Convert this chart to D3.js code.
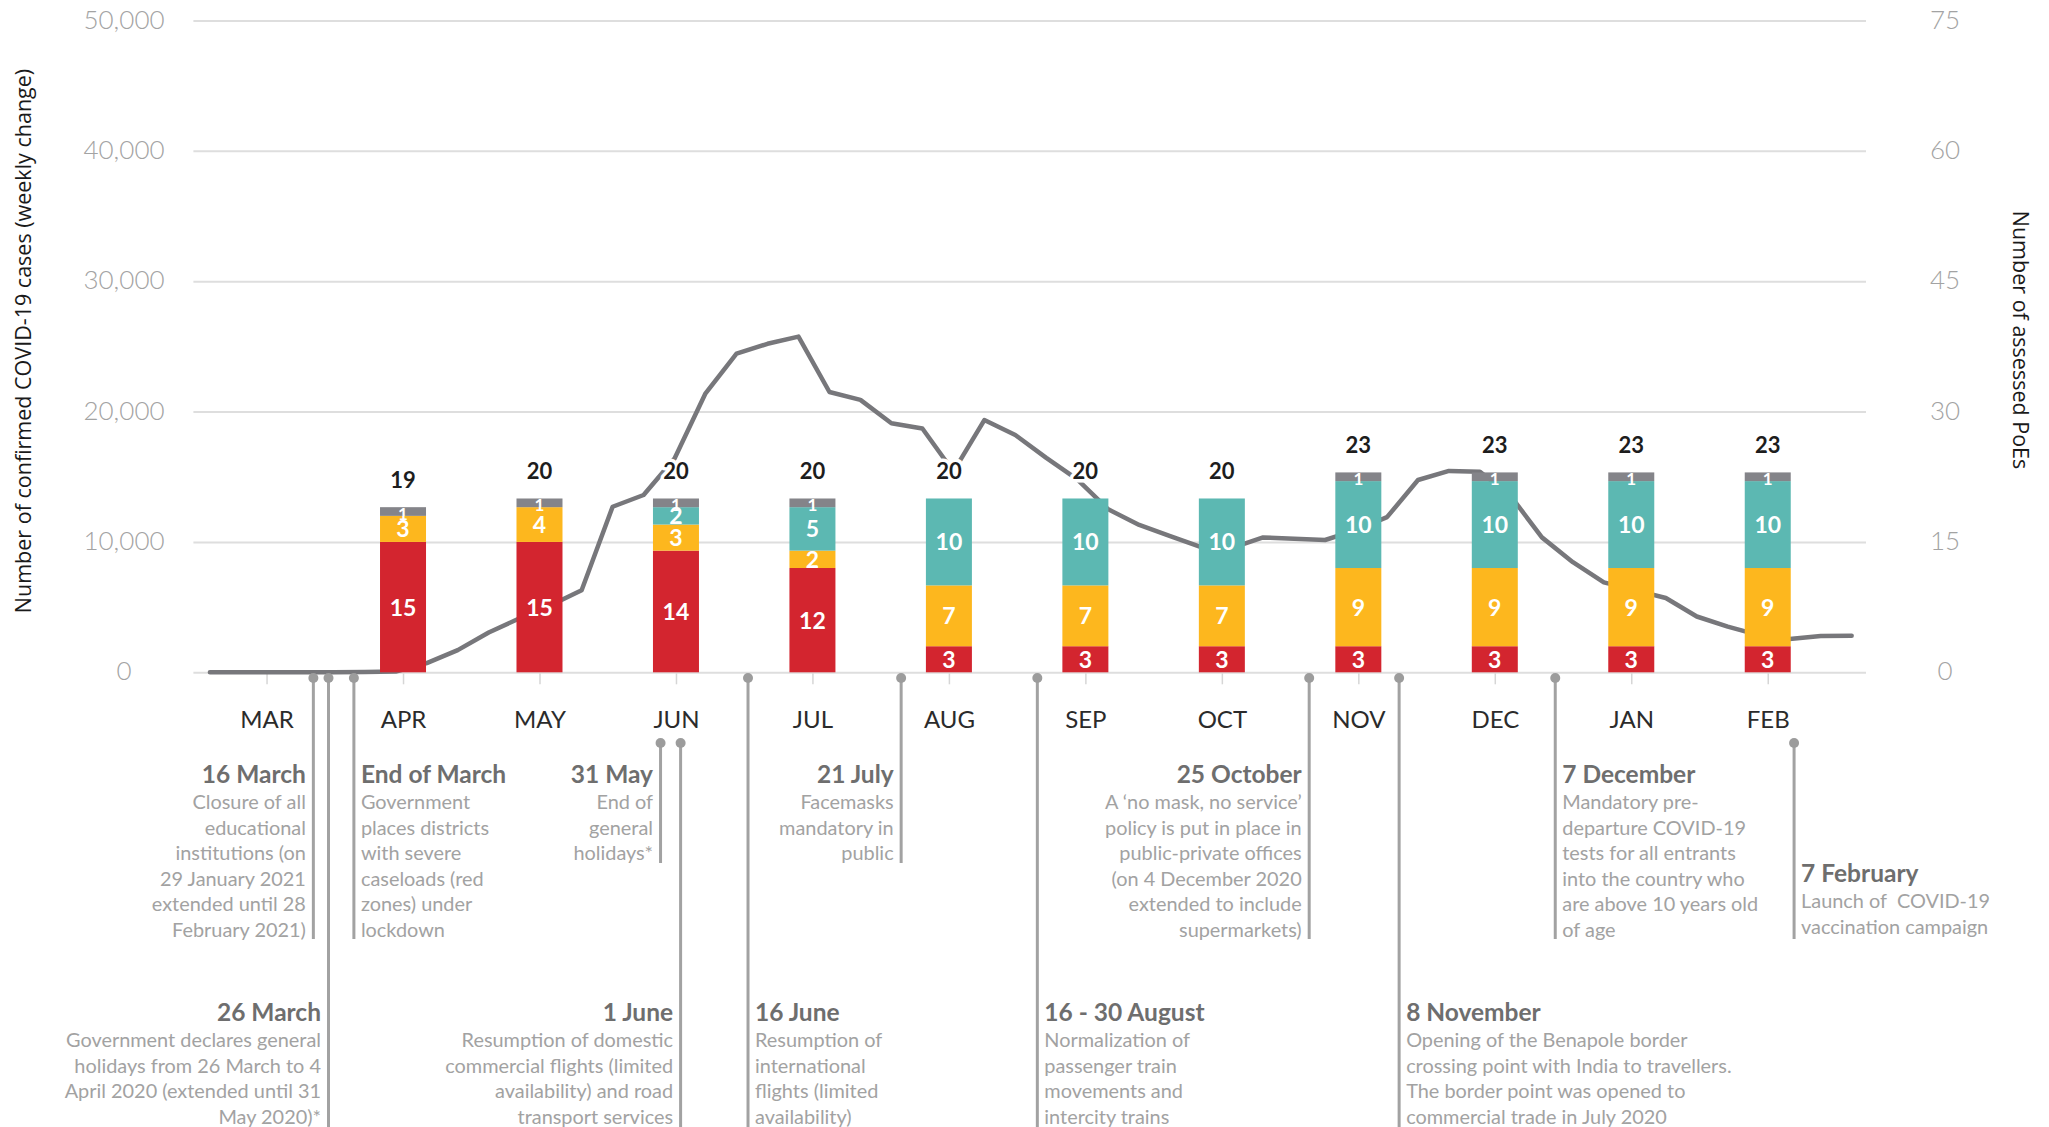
<!DOCTYPE html>
<html><head><meta charset="utf-8">
<script src="https://cdn.jsdelivr.net/npm/d3@7"></script>
<style>
html,body{margin:0;padding:0;background:#fff;}
svg{display:block;}
</style></head>
<body>
<svg id="chart" width="2049" height="1127"></svg>
<script>
// ---------------- DATA ----------------
const months = ["MAR","APR","MAY","JUN","JUL","AUG","SEP","OCT","NOV","DEC","JAN","FEB"];
const leftTicks = [0, 10000, 20000, 30000, 40000, 50000];
const rightTicks = [0, 15, 30, 45, 60, 75];

// assessed PoEs per month (bars start in APR)
const barMonths = ["APR","MAY","JUN","JUL","AUG","SEP","OCT","NOV","DEC","JAN","FEB"];
const poeRed    = [15, 15, 14, 12, 3, 3, 3, 3, 3, 3, 3];
const poeYellow = [3, 4, 3, 2, 7, 7, 7, 9, 9, 9, 9];
const poeTeal   = [0, 0, 2, 5, 10, 10, 10, 10, 10, 10, 10];
const poeGray   = [1, 1, 1, 1, 0, 0, 0, 1, 1, 1, 1];

// weekly change in confirmed COVID-19 cases (54 weeks)
const weeklyCases = [
  0, 0, 0, 0, 0, 20, 60, 700, 1700, 3050,
  4150, 5150, 6300, 12700, 13600, 16400, 21400, 24450, 25200, 25750,
  21500, 20900, 19100, 18700, 15400, 19350, 18200, 16450, 14800, 12500,
  11300, 10450, 9600, 9550, 10350, 10250, 10150, 10900, 11900, 14750,
  15450, 15380, 13500, 10350, 8450, 6900, 6300, 5700, 4280, 3500,
  2850, 2550, 2780, 2800
];
// first and last week expressed in month-axis units (MAR = 0)
const weekSpan = [-0.415, 11.615];

// timeline events: position in month-axis units (MAR = 0)
const eventTitles = ["16 March","26 March","End of March","31 May","1 June","16 June","21 July","16 - 30 August","25 October","8 November","7 December","7 February"];
const eventPos = [0.343, 0.454, 0.640, 2.887, 3.034, 3.528, 4.650, 5.648, 7.640, 8.299, 9.443, 11.193];
const eventTexts = [
  ["Closure of all","educational","institutions (on","29 January 2021","extended until 28","February 2021)"],
  ["Government declares general","holidays from 26 March to 4","April 2020 (extended until 31","May 2020)*"],
  ["Government","places districts","with severe","caseloads (red","zones) under","lockdown"],
  ["End of","general","holidays*"],
  ["Resumption of domestic","commercial flights (limited","availability) and road","transport services"],
  ["Resumption of","international","flights (limited","availability)"],
  ["Facemasks","mandatory in","public"],
  ["Normalization of","passenger train","movements and","intercity trains"],
  ["A \u2018no mask, no service\u2019","policy is put in place in","public-private offices","(on 4 December 2020","extended to include","supermarkets)"],
  ["Opening of the Benapole border","crossing point with India to travellers.","The border point was opened to","commercial trade in July 2020"],
  ["Mandatory pre-","departure COVID-19","tests for all entrants","into the country who","are above 10 years old","of age"],
  ["Launch of  COVID-19","vaccination campaign"]
];

// ---------------- LAYOUT ----------------
const W = 2049, H = 1127;
const plotLeft = 193.4, plotRight = 1866, plotTop = 20.5, plotBottom = 672.3;
// side: which side of the stem the text sits; dot: stem top; end: stem bottom; ty: title baseline
const eventLayout = [
  {side:"L", dot:678, end:939,  ty:783},
  {side:"L", dot:678, end:1130, ty:1021},
  {side:"R", dot:678, end:939,  ty:783},
  {side:"L", dot:743, end:863,  ty:783},
  {side:"L", dot:743, end:1130, ty:1021},
  {side:"R", dot:678, end:1130, ty:1021},
  {side:"L", dot:678, end:863,  ty:783},
  {side:"R", dot:678, end:1130, ty:1021},
  {side:"L", dot:678, end:939,  ty:783},
  {side:"R", dot:678, end:1130, ty:1021},
  {side:"R", dot:678, end:939,  ty:783},
  {side:"R", dot:743, end:939,  ty:882}
];

const colors = {red:"#D3252F", yellow:"#FDB71E", teal:"#5CB8B2", gray:"#848489"};
const FONT = "Lato, 'Open Sans', sans-serif";

const svg = d3.select("#chart");
svg.append("rect").attr("width", W).attr("height", H).attr("fill", "#fff");

const x = d3.scaleLinear().domain([-0.536, 11.72]).range([plotLeft, plotRight]);
const yL = d3.scaleLinear().domain([0, 50000]).range([plotBottom, plotTop]);
const yR = d3.scaleLinear().domain([0, 75]).range([plotBottom, plotTop]);
const xWeek = d3.scaleLinear().domain([0, weeklyCases.length - 1]).range([x(weekSpan[0]), x(weekSpan[1])]);

// gridlines
const grid = svg.append("g").attr("transform", `translate(${plotLeft},0)`)
  .call(d3.axisLeft(yL).tickValues(leftTicks).tickSize(-(plotRight - plotLeft)).tickFormat(""));
grid.select(".domain").remove();
grid.selectAll("line").attr("stroke", "#dedede").attr("stroke-width", 2);

// left tick labels
const axL = svg.append("g").attr("transform", `translate(124,0)`)
  .call(d3.axisLeft(yL).tickValues(leftTicks).tickSize(0).tickPadding(0).tickFormat(d3.format(",")));
axL.select(".domain").remove();
axL.selectAll("text").attr("x", 0).attr("dy", "7.5").attr("text-anchor", "middle")
  .attr("font-family", FONT).attr("font-weight", 300).attr("font-size", 26).attr("fill", "#a3a3a3");

// right tick labels
const axR = svg.append("g").attr("transform", `translate(1945,0)`)
  .call(d3.axisRight(yR).tickValues(rightTicks).tickSize(0).tickPadding(0));
axR.select(".domain").remove();
axR.selectAll("text").attr("x", 0).attr("dy", "7.5").attr("text-anchor", "middle")
  .attr("font-family", FONT).attr("font-weight", 300).attr("font-size", 26).attr("fill", "#a3a3a3");

// month axis
const axB = svg.append("g").attr("transform", `translate(0,${plotBottom})`)
  .call(d3.axisBottom(x).tickValues(d3.range(months.length)).tickSize(12).tickFormat(i => months[i]));
axB.select(".domain").remove();
axB.selectAll("line").attr("stroke", "#d6d6d6").attr("stroke-width", 1.5).attr("y1", 1);
axB.selectAll("text").attr("y", 56).attr("dy", null)
  .attr("font-family", FONT).attr("font-size", 24).attr("fill", "#2b2b2b");

// axis titles
svg.append("text").attr("transform", "translate(22,341) rotate(-90)")
  .attr("text-anchor", "middle").attr("dominant-baseline", "central")
  .attr("font-family", "'Open Sans', sans-serif").attr("font-size", 21.5).attr("fill", "#1a1a1a")
  .text("Number of confirmed COVID-19 cases (weekly change)");
svg.append("text").attr("transform", "translate(2021,340) rotate(90)")
  .attr("text-anchor", "middle").attr("dominant-baseline", "central")
  .attr("font-family", "'Open Sans', sans-serif").attr("font-size", 21.5).attr("fill", "#1a1a1a")
  .text("Number of assessed PoEs");

// cases line (behind bars)
const line = d3.line().x((d, i) => xWeek(i)).y(d => yL(d));
svg.append("path").datum(weeklyCases).attr("d", line)
  .attr("fill", "none").attr("stroke", "#77777b").attr("stroke-width", 4.5)
  .attr("stroke-linejoin", "round").attr("stroke-linecap", "round");

// stacked bars
const table = barMonths.map((m, i) => ({month: m, red: poeRed[i], yellow: poeYellow[i], teal: poeTeal[i], gray: poeGray[i]}));
const keys = ["red", "yellow", "teal", "gray"];
const stacked = d3.stack().keys(keys)(table);
const barW = 46;
const bx = d => x(months.indexOf(d.data.month));

const barsG = svg.append("g");
stacked.forEach(series => {
  barsG.append("g").selectAll("rect").data(series.filter(d => d[1] > d[0])).join("rect")
    .attr("x", d => bx(d) - barW / 2).attr("width", barW)
    .attr("y", d => yR(d[1])).attr("height", d => yR(d[0]) - yR(d[1]))
    .attr("fill", colors[series.key]);
});
stacked.forEach(series => {
  const fs = series.key === "gray" ? 17 : 23;
  const off = series.key === "gray" ? 8 : 8.5;
  barsG.append("g").selectAll("text").data(series.filter(d => d[1] > d[0])).join("text")
    .attr("x", d => bx(d)).attr("y", d => (yR(d[0]) + yR(d[1])) / 2 + off)
    .attr("text-anchor", "middle").attr("font-family", FONT).attr("font-weight", 700)
    .attr("font-size", fs).attr("fill", "#fff")
    .text(d => d[1] - d[0]);
});

// totals
const totals = table.map(d => ({month: d.month, total: keys.reduce((s, k) => s + d[k], 0)}));
svg.append("g").selectAll("text").data(totals).join("text")
  .attr("x", d => x(months.indexOf(d.month))).attr("y", d => yR(d.total) - 19)
  .attr("text-anchor", "middle").attr("font-family", FONT).attr("font-weight", 700)
  .attr("font-size", 22).attr("fill", "#1d1d1d")
  .attr("stroke", "#fff").attr("stroke-width", 7).attr("stroke-linejoin", "round")
  .attr("paint-order", "stroke")
  .text(d => d.total);

// timeline events
const evG = svg.append("g");
eventTitles.forEach((t, i) => {
  const L = eventLayout[i];
  const ex = x(eventPos[i]);
  evG.append("line").attr("x1", ex).attr("x2", ex).attr("y1", L.dot).attr("y2", L.end)
    .attr("stroke", "#a2a2a2").attr("stroke-width", 3);
  evG.append("circle").attr("cx", ex).attr("cy", L.dot).attr("r", 5).attr("fill", "#9c9c9c");
  const tx = L.side === "L" ? ex - 7.5 : ex + 7;
  const anchor = L.side === "L" ? "end" : "start";
  evG.append("text").attr("x", tx).attr("y", L.ty).attr("text-anchor", anchor)
    .attr("font-family", FONT).attr("font-weight", 700).attr("font-size", 24.5).attr("fill", "#6e6e6e")
    .text(t);
  eventTexts[i].forEach((ln, j) => {
    evG.append("text").attr("x", tx).attr("y", L.ty + 26 + j * 25.5).attr("text-anchor", anchor)
      .attr("font-family", FONT).attr("font-size", 19.9).attr("fill", "#a2a2a2")
      .attr("xml:space", "preserve").style("white-space", "pre")
      .text(ln);
  });
});
</script>
</body></html>
